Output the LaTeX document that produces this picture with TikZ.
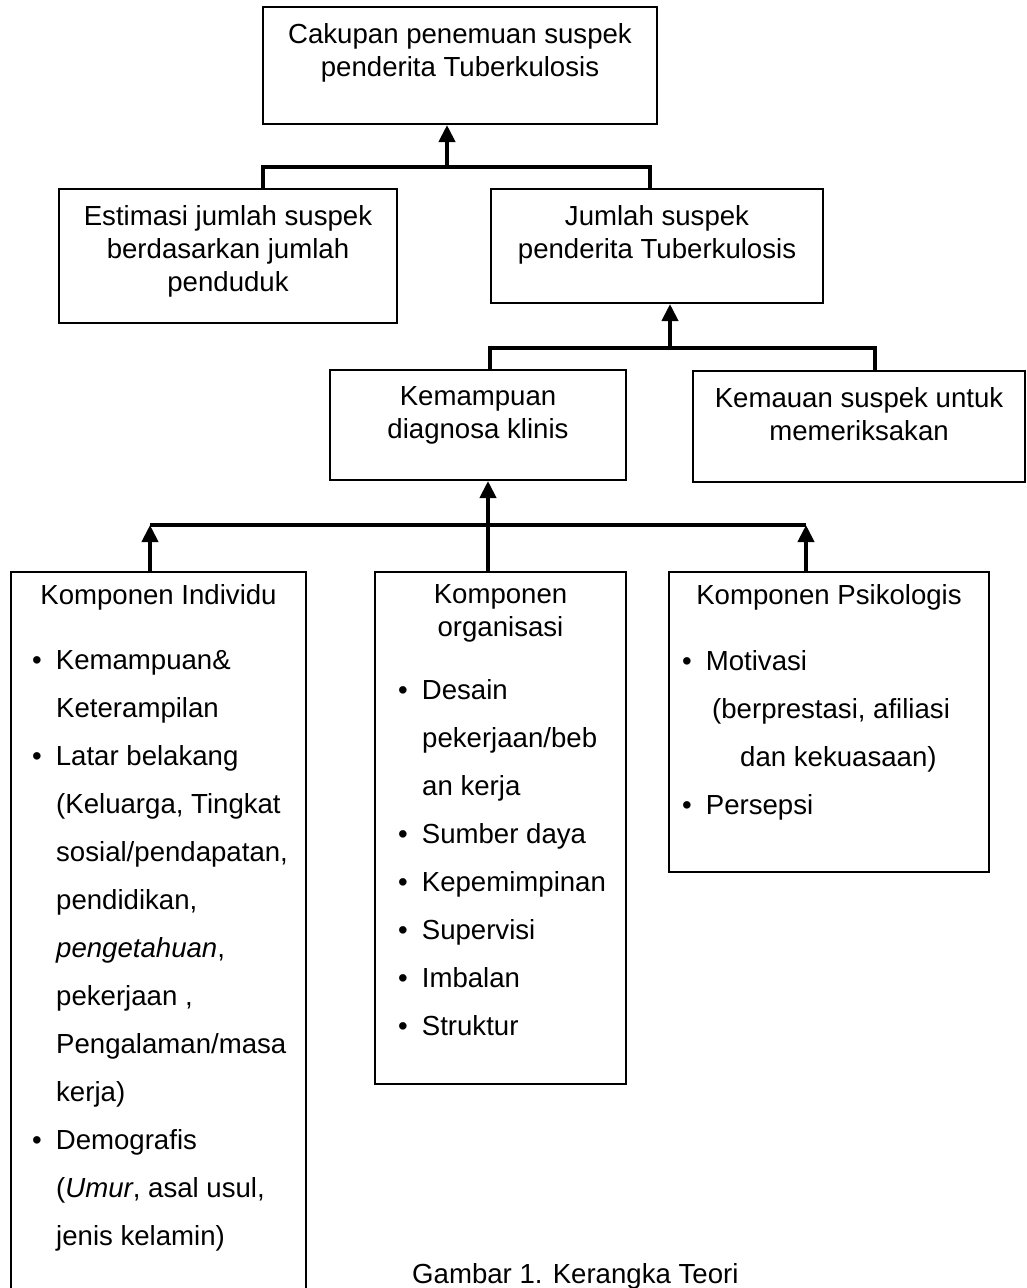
\documentclass[tikz,border=0pt]{standalone}
\usepackage{fontspec}
\setmainfont{Liberation Sans}
\usetikzlibrary{arrows.meta,positioning}

\newcommand\itemdot{\textbullet\hspace{14pt}}
\newcommand\itemgap{\hspace*{24pt}}

\begin{document}
\begin{tikzpicture}[
  x=1pt, y=-1pt,
  box/.style={draw, line width=2pt, anchor=north west, inner sep=0pt},
  txt/.style={align=center, inner sep=0pt, font=\fontsize{27.6pt}{33pt}\selectfont},
  list/.style={align=left, inner sep=0pt, anchor=north west, font=\fontsize{27.6pt}{48pt}\selectfont},
  link/.style={line width=4pt},
  arrow/.style={link, -{Triangle[length=17pt,width=16pt]}}
]
\useasboundingbox (0,0) rectangle (1027,1288);

\node[box, minimum width=394pt, minimum height=117pt] (top) at (262,6) {};
\node[txt, below=17pt of top.north] (topt) {Cakupan penemuan suspek\\penderita Tuberkulosis};

\node[box, minimum width=338pt, minimum height=134pt] (est) at (58,188) {};
\node[txt, below=17pt of est.north] (estt) {Estimasi jumlah suspek\\berdasarkan jumlah\\penduduk};
\node[box, minimum width=332pt, minimum height=114pt] (jum) at (490,188) {};
\node[txt, below=17pt of jum.north] (jumt) {Jumlah suspek\\penderita Tuberkulosis};

\node[box, minimum width=296pt, minimum height=110pt] (kem) at (329,369) {};
\node[txt, below=17pt of kem.north] (kemt) {Kemampuan\\diagnosa klinis};
\node[box, minimum width=332pt, minimum height=111pt] (mau) at (692,370) {};
\node[txt, below=17pt of mau.north] (maut) {Kemauan suspek untuk\\memeriksakan};

\node[box, minimum width=295pt, minimum height=725pt] (ind) at (10,571) {};
\node[txt, below=13pt of ind.north] (indt) {Komponen Individu};
\node[list] (indl) at (32,650) {\itemdot Kemampuan\&\\
\itemgap Keterampilan\\
\itemdot Latar belakang\\
\itemgap (Keluarga, Tingkat\\
\itemgap sosial/pendapatan,\\
\itemgap pendidikan,\\
\itemgap \textit{pengetahuan},\\
\itemgap pekerjaan ,\\
\itemgap Pengalaman/masa\\
\itemgap kerja)\\
\itemdot Demografis\\
\itemgap (\textit{Umur}, asal usul,\\
\itemgap jenis kelamin)};

\node[box, minimum width=251pt, minimum height=512pt] (org) at (374,571) {};
\node[txt, below=13pt of org.north] (orgt) {Komponen\\organisasi};
\node[list] (orgl) at (398,679) {\itemdot Desain\\
\itemgap pekerjaan/beb\\
\itemgap an kerja\\
\itemdot Sumber daya\\
\itemdot Kepemimpinan\\
\itemdot Supervisi\\
\itemdot Imbalan\\
\itemdot Struktur};

\node[box, minimum width=320pt, minimum height=300pt] (psi) at (668,571) {};
\node[txt, below=13pt of psi.north] (psit) {Komponen Psikologis};
\node[list] (psil) at (682,650) {\itemdot Motivasi\\
\hspace*{30pt}(berprestasi, afiliasi\\
\hspace*{58pt}dan kekuasaan)\\
\itemdot Persepsi};

\node[txt, anchor=west] (cap) at (412,1276) {Gambar 1. Kerangka Teori};

\coordinate (j1) at (447,167);
\coordinate (j1l) at (263,167);
\coordinate (j1r) at (650,167);
\coordinate (j2) at (670,348);
\coordinate (j2l) at (490,348);
\coordinate (j2r) at (875,348);
\coordinate (j3) at (488,525);
\coordinate (j3l) at (150,525);
\coordinate (j3r) at (806,525);

\draw[link] (j1l |- est.north) -- (j1l) -- (j1r) -- (j1r |- jum.north);
\draw[arrow] (j1) -- (j1 |- top.south);
\draw[link] (j2l |- kem.north) -- (j2l) -- (j2r) -- (j2r |- mau.north);
\draw[arrow] (j2) -- (j2 |- jum.south);
\draw[link] (j3l) -- (j3r);
\draw[arrow] (j3 |- org.north) -- (j3 |- kem.south);
\draw[arrow] (j3l |- ind.north) -- (j3l);
\draw[arrow] (j3r |- psi.north) -- (j3r);
\end{tikzpicture}
\end{document}
